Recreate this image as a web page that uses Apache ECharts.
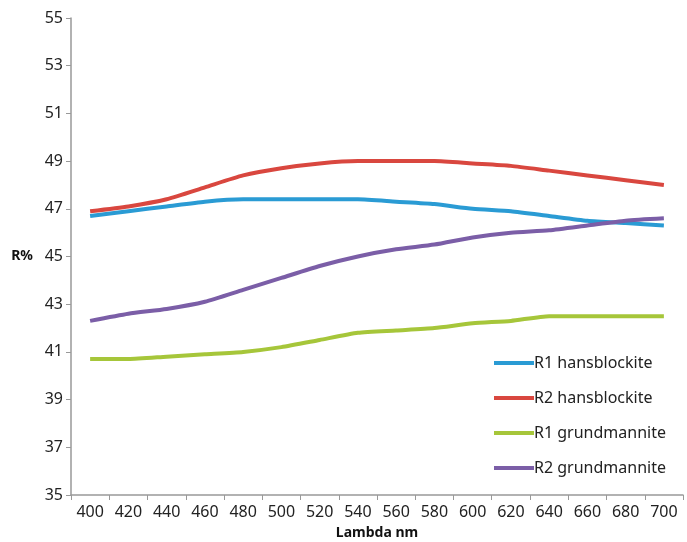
<!DOCTYPE html>
<html><head><meta charset="utf-8">
<script src="https://cdn.jsdelivr.net/npm/echarts@6/dist/echarts.min.js"></script>
<style>html,body{margin:0;padding:0;background:#fff}#c{width:687px;height:542px}</style>
</head><body><div id="c"></div>
<script>
const categories = ['400','420','440','460','480','500','520','540','560','580','600','620','640','660','680','700'];
const seriesNames = ['R1 hansblockite','R2 hansblockite','R1 grundmannite','R2 grundmannite'];
const r1Hans = [46.7,46.9,47.1,47.3,47.4,47.4,47.4,47.4,47.3,47.2,47.0,46.9,46.7,46.5,46.4,46.3];
const r2Hans = [46.9,47.1,47.4,47.9,48.4,48.7,48.9,49.0,49.0,49.0,48.9,48.8,48.6,48.4,48.2,48.0];
const r1Grund = [40.7,40.7,40.8,40.9,41.0,41.2,41.5,41.8,41.9,42.0,42.2,42.3,42.5,42.5,42.5,42.5];
const r2Grund = [42.3,42.6,42.8,43.1,43.6,44.1,44.6,45.0,45.3,45.5,45.8,46.0,46.1,46.3,46.5,46.6];
const colors = ['#2a9bd4','#d9473f','#a6c63a','#7b5ea7'];
const values = [r1Hans, r2Hans, r1Grund, r2Grund];

const chart = echarts.init(document.getElementById('c'));
const font = 'Noto Sans';
chart.setOption({
  animation: false,
  textStyle: {fontFamily: font},
  grid: {left: 71, right: 4, top: 18, bottom: 47, containLabel: false, outerBoundsMode: 'none'},
  legend: {
    orient: 'vertical', left: 489, top: 347, itemGap: 13,
    icon: 'rect', itemWidth: 40, itemHeight: 4,
    textStyle: {fontFamily: font, fontSize: 16, lineHeight: 22, color: '#222', padding: [0,0,0,-5]},
    data: seriesNames
  },
  xAxis: {
    type: 'category', data: categories, boundaryGap: true,
    name: 'Lambda nm', nameLocation: 'middle', nameGap: 31,
    nameTextStyle: {fontFamily: font, fontSize: 14, fontWeight: 'bold', color: '#111'},
    axisLine: {lineStyle: {color: '#999', width: 1.5}},
    axisTick: {show: true, length: 5, lineStyle: {color: '#999'}},
    axisLabel: {fontSize: 16, color: '#222', margin: 9}
  },
  yAxis: {
    type: 'value', min: 35, max: 55, interval: 2,
    name: 'R%', nameLocation: 'middle', nameRotate: 0, nameGap: 38,
    nameTextStyle: {fontFamily: font, fontSize: 14, fontWeight: 'bold', color: '#111'},
    axisLine: {show: true, lineStyle: {color: '#999', width: 1.5}},
    axisTick: {show: true, length: 5, lineStyle: {color: '#999'}},
    splitLine: {show: false},
    axisLabel: {fontSize: 16, color: '#222', margin: 8}
  },
  series: seriesNames.map((n, i) => ({
    name: n, type: 'line', data: values[i], symbol: 'none', smooth: 0.2,
    lineStyle: {width: 4, color: colors[i]}, itemStyle: {color: colors[i]}
  }))
});
</script></body></html>
